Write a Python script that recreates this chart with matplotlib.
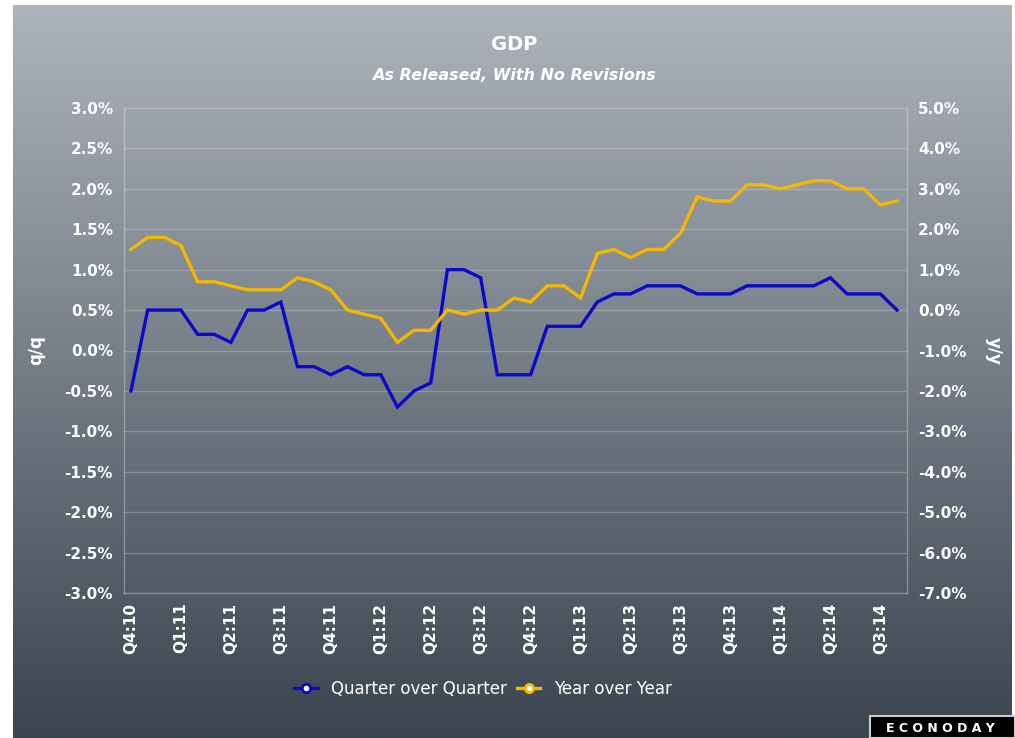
import matplotlib
matplotlib.use("Agg")
import matplotlib.pyplot as plt
import numpy as np
from matplotlib.patches import Rectangle
from matplotlib.lines import Line2D

# monthly releases, Q4:10 .. Q4:14
qq = [-0.5, 0.5, 0.5, 0.5, 0.2, 0.2, 0.1, 0.5, 0.5, 0.6, -0.2, -0.2, -0.3, -0.2, -0.3, -0.3,
      -0.7, -0.5, -0.4, 1.0, 1.0, 0.9, -0.3, -0.3, -0.3, 0.3, 0.3, 0.3, 0.6, 0.7, 0.7, 0.8,
      0.8, 0.8, 0.7, 0.7, 0.7, 0.8, 0.8, 0.8, 0.8, 0.8, 0.9, 0.7, 0.7, 0.7, 0.5]
yy = [1.5, 1.8, 1.8, 1.6, 0.7, 0.7, 0.6, 0.5, 0.5, 0.5, 0.8, 0.7, 0.5, 0.0, -0.1, -0.2,
      -0.8, -0.5, -0.5, 0.0, -0.1, 0.0, 0.0, 0.3, 0.2, 0.6, 0.6, 0.3, 1.4, 1.5, 1.3, 1.5,
      1.5, 1.9, 2.8, 2.7, 2.7, 3.1, 3.1, 3.0, 3.1, 3.2, 3.2, 3.0, 3.0, 2.6, 2.7]
quarter_labels = ["Q4:10", "Q1:11", "Q2:11", "Q3:11", "Q4:11", "Q1:12", "Q2:12", "Q3:12",
                  "Q4:12", "Q1:13", "Q2:13", "Q3:13", "Q4:13", "Q1:14", "Q2:14", "Q3:14"]

W, H = 1015, 738
fig = plt.figure(figsize=(W / 100, H / 100), dpi=100)
fig.patch.set_facecolor("white")

# gradient panel
bg = fig.add_axes([13 / W, 0, (1012 - 13) / W, (H - 5) / H])
top = np.array([0xae, 0xb4, 0xbc]) / 255
bot = np.array([0x3a, 0x45, 0x50]) / 255
t = np.linspace(0, 1, 256)[:, None]
grad = (top[None, :] * (1 - t) + bot[None, :] * t)[:, None, :]
bg.imshow(grad, aspect="auto", extent=[0, 1, 0, 1], origin="upper")
bg.set_axis_off()

ax = fig.add_axes([124 / W, 145 / H, 783 / W, 485 / H])
ax.patch.set_alpha(0)
ax2 = ax.twinx()

x = np.arange(len(qq))
blue = "#0a0ac8"
gold = "#f5b800"
ax.plot(x, qq, color=blue, lw=2.4, zorder=4, solid_joinstyle="miter")
ax2.plot(x, yy, color=gold, lw=2.4, zorder=3, solid_joinstyle="miter")

ax.set_xlim(-0.42, 46.6)
ax.set_ylim(-3.0, 3.0)
ax2.set_ylim(-7.0, 5.0)
left_ticks = np.arange(-3.0, 3.01, 0.5)
right_ticks = np.arange(-7.0, 5.01, 1.0)
ax.set_yticks(left_ticks)
ax.set_yticklabels([f"{v:.1f}%" for v in left_ticks])
ax2.set_yticks(right_ticks)
ax2.set_yticklabels([f"{v:.1f}%" for v in right_ticks])
ax.set_xticks(np.arange(0, 46, 3))
ax.set_xticklabels(quarter_labels, rotation=90)

for v in left_ticks:
    ax.axhline(v, color="white", alpha=0.22, lw=1, zorder=1)

for a in (ax, ax2):
    for s in a.spines.values():
        s.set_visible(False)
    a.tick_params(length=0, colors="white", labelsize=11)
    for lab in a.get_yticklabels() + a.get_xticklabels():
        lab.set_fontweight("bold")
ax.tick_params(axis="y", pad=8)
ax2.tick_params(axis="y", pad=8)
ax.tick_params(axis="x", pad=7)
for side in ("left", "right", "bottom"):
    ax.spines[side].set_visible(True)
    ax.spines[side].set_color((1, 1, 1, 0.3))
    ax.spines[side].set_linewidth(1)

ax.set_ylabel("q/q", color="white", fontsize=12, fontweight="bold", labelpad=14)
ax2.set_ylabel("y/y", color="white", fontsize=12, fontweight="bold", rotation=270, labelpad=26)

fig.text(514 / W, 1 - 44 / H, "GDP", color="white", fontsize=14, fontweight="bold",
         ha="center", va="center")
fig.text(514 / W, 1 - 76 / H, "As Released, With No Revisions", color="white", fontsize=11.5,
         fontweight="bold", style="italic", ha="center", va="center")

handles = [Line2D([], [], color=blue, lw=2.4, marker="o", markersize=6,
                  markerfacecolor="white", markeredgecolor=blue, markeredgewidth=2),
           Line2D([], [], color=gold, lw=2.4, marker="o", markersize=6,
                  markerfacecolor="white", markeredgecolor=gold, markeredgewidth=2)]
leg = fig.legend(handles, ["Quarter over Quarter", "Year over Year"], loc="center",
                 bbox_to_anchor=(483 / W, 1 - 689 / H), ncol=2, frameon=False,
                 handlelength=1.4, handletextpad=0.8, columnspacing=0.6, fontsize=12)
for txt in leg.get_texts():
    txt.set_color("white")

# logo
fig.patches.append(Rectangle((870 / W, 0), 145 / W, 22 / H, transform=fig.transFigure,
                             facecolor="black", edgecolor="#cccccc", lw=1.5))
fig.text(940 / W, 10 / H, "E C O N O D A Y", color="white", fontsize=9, fontweight="bold",
         ha="center", va="center")

fig.savefig("out.png", dpi=100)
